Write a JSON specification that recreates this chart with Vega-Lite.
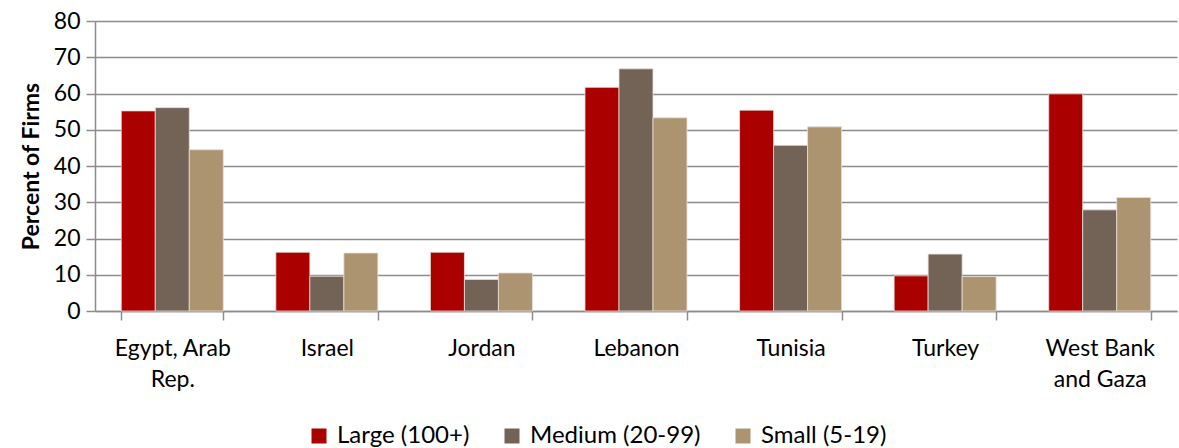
{
  "$schema": "https://vega.github.io/schema/vega-lite/v6.json",
  "autosize": "none",
  "width": 1082,
  "height": 290,
  "padding": {"left": 95, "top": 21, "right": 2, "bottom": 137},
  "config": {
    "font": "Lato",
    "view": {"stroke": null}
  },
  "data": {
    "values": [
      {"country": "Egypt, Arab Rep.", "size": "Large (100+)", "pct": 55.2},
      {"country": "Egypt, Arab Rep.", "size": "Medium (20-99)", "pct": 56.1},
      {"country": "Egypt, Arab Rep.", "size": "Small (5-19)", "pct": 44.5},
      {"country": "Israel", "size": "Large (100+)", "pct": 16.2},
      {"country": "Israel", "size": "Medium (20-99)", "pct": 9.6},
      {"country": "Israel", "size": "Small (5-19)", "pct": 16.0},
      {"country": "Jordan", "size": "Large (100+)", "pct": 16.2},
      {"country": "Jordan", "size": "Medium (20-99)", "pct": 8.7},
      {"country": "Jordan", "size": "Small (5-19)", "pct": 10.5},
      {"country": "Lebanon", "size": "Large (100+)", "pct": 61.7},
      {"country": "Lebanon", "size": "Medium (20-99)", "pct": 66.8},
      {"country": "Lebanon", "size": "Small (5-19)", "pct": 53.3},
      {"country": "Tunisia", "size": "Large (100+)", "pct": 55.4},
      {"country": "Tunisia", "size": "Medium (20-99)", "pct": 45.7},
      {"country": "Tunisia", "size": "Small (5-19)", "pct": 50.8},
      {"country": "Turkey", "size": "Large (100+)", "pct": 9.7},
      {"country": "Turkey", "size": "Medium (20-99)", "pct": 15.7},
      {"country": "Turkey", "size": "Small (5-19)", "pct": 9.5},
      {"country": "West Bank and Gaza", "size": "Large (100+)", "pct": 59.9},
      {"country": "West Bank and Gaza", "size": "Medium (20-99)", "pct": 27.9},
      {"country": "West Bank and Gaza", "size": "Small (5-19)", "pct": 31.3}
    ]
  },
  "mark": {"type": "bar", "stroke": "#e8e0d8", "strokeWidth": 0.8},
  "encoding": {
    "x": {
      "field": "country",
      "type": "nominal",
      "sort": null,
      "scale": {"paddingInner": 0.34, "paddingOuter": 0.17},
      "axis": {
        "title": null,
        "labelAngle": 0,
        "labelFontSize": 23,
        "labelColor": "#000000",
        "labelPadding": 17,
        "labelLineHeight": 31,
        "labelLimit": 300,
        "labelExpr": "datum.label == 'Egypt, Arab Rep.' ? ['Egypt, Arab', 'Rep.'] : datum.label == 'West Bank and Gaza' ? ['West Bank', 'and Gaza'] : datum.label",
        "tickBand": "extent",
        "tickColor": "#8c8c8c",
        "tickSize": 9,
        "tickWidth": 1.5,
        "domainColor": "#8c8c8c",
        "domainWidth": 1.5
      }
    },
    "xOffset": {"field": "size", "type": "nominal", "sort": ["Large (100+)", "Medium (20-99)", "Small (5-19)"]},
    "y": {
      "field": "pct",
      "type": "quantitative",
      "scale": {"domain": [0, 80]},
      "axis": {
        "title": "Percent of Firms",
        "titleFontSize": 23,
        "titleFontWeight": "bold",
        "titleColor": "#000000",
        "titlePadding": 10,
        "values": [0, 10, 20, 30, 40, 50, 60, 70, 80],
        "labelFontSize": 23,
        "labelColor": "#000000",
        "labelPadding": 6,
        "tickColor": "#8c8c8c",
        "tickSize": 9,
        "tickWidth": 1.5,
        "domainColor": "#8c8c8c",
        "domainWidth": 1.5,
        "gridColor": "#8c8c8c",
        "gridWidth": 1.5
      }
    },
    "color": {
      "field": "size",
      "type": "nominal",
      "sort": ["Large (100+)", "Medium (20-99)", "Small (5-19)"],
      "scale": {
        "domain": ["Large (100+)", "Medium (20-99)", "Small (5-19)"],
        "range": ["#AA0000", "#736256", "#AC9470"]
      },
      "legend": {
        "title": null,
        "orient": "none",
        "direction": "horizontal",
        "legendX": 212,
        "legendY": 403,
        "symbolType": "square",
        "symbolSize": 225,
        "symbolStrokeWidth": 0,
        "labelFontSize": 24,
        "labelColor": "#000000",
        "labelLimit": 400,
        "columnPadding": 30,
        "labelOffset": 6
      }
    }
  }
}
